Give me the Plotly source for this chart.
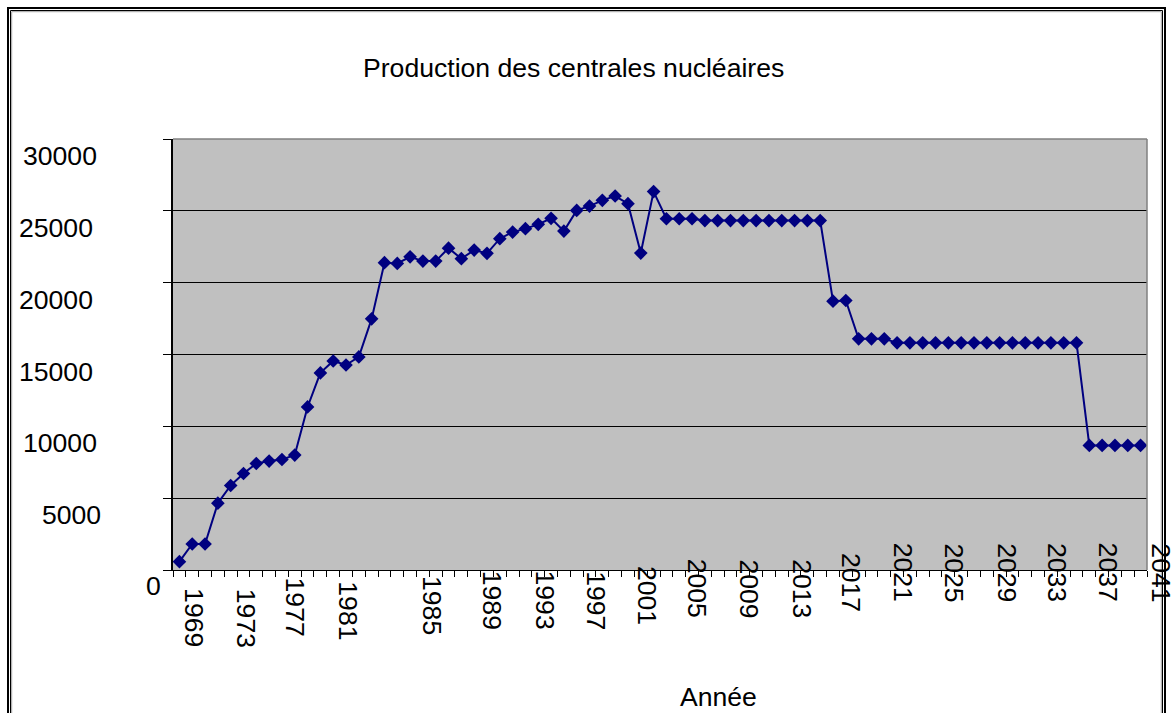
import plotly.graph_objects as go

# ---------------- data ----------------
years = list(range(1969, 2045))
production = [
    580, 1810, 1810, 4650, 5880, 6720, 7410, 7580, 7690, 8000,
    11350, 13720, 14550, 14270, 14830, 17480, 21390, 21340, 21800, 21500,
    21500, 22400, 21670, 22270, 22040, 23060, 23520, 23760, 24060, 24480,
    23590, 25030, 25330, 25730, 26030, 25500, 22060, 26340, 24450, 24450,
    24450, 24320, 24320, 24320, 24320, 24320, 24320, 24320, 24320, 24320,
    24320, 18710, 18760, 16090, 16090, 16090, 15810, 15810, 15810, 15810,
    15810, 15810, 15810, 15810, 15810, 15810, 15810, 15810, 15810, 15810,
    15810, 8670, 8670, 8670, 8670, 8670,
]
x_tick_labels = [1969, 1973, 1977, 1981, 1985, 1989, 1993, 1997, 2001, 2005,
                 2009, 2013, 2017, 2021, 2025, 2029, 2033, 2037, 2041]
y_tick_values = [0, 5000, 10000, 15000, 20000, 25000, 30000]

title_text = "Production des centrales nucléaires"
x_title = "Année"

# ---------------- styling / label placement (as in the reference) ----------------
FONT = "Liberation Sans, Arial, sans-serif"
FS = 26.6
NAVY = "#000080"
# pixel offsets of the x tick labels relative to their category
x_label_xshift = [15, 16, 14, 15, 48, 57, 59, 58, 58, 57, 57, 59, 57, 58, 57, 59, 58, 58, 59]
x_label_yshift = [-17, -18, -7, -10, -5, 0, 0, 0, 5, 12, 12, 12, 18, 28, 28, 28, 28, 28, 28]
# pixel offsets of the y tick labels
y_label_xshift = [-11, -71, -75, -79, -79, -79, -75]
y_label_yshift = [-16, -17, -17, -17, -17, -17, -17]

W, H = 1174, 713
L, R, T, B = 173, 27, 139, 143
PW, PH = W - L - R, H - T - B


def px(xpix):
    return (xpix - L) / PW


def py(ypix):
    return (H - B - ypix) / PH


fig = go.Figure()
fig.add_trace(go.Scatter(
    x=years, y=production, mode="lines+markers",
    line=dict(color=NAVY, width=2),
    marker=dict(symbol="diamond", size=10.5, color=NAVY, line=dict(width=0)),
    showlegend=False, hoverinfo="x+y",
))

annotations = []
for i, yr in enumerate(x_tick_labels):
    annotations.append(dict(
        x=yr, xref="x", y=0, yref="paper", text=str(yr), showarrow=False,
        textangle=90, xanchor="center", yanchor="top", borderpad=0,
        xshift=x_label_xshift[i], yshift=x_label_yshift[i],
        font=dict(family=FONT, size=FS, color="black"),
    ))
for i, v in enumerate(y_tick_values):
    annotations.append(dict(
        x=0, xref="paper", y=v, yref="y", text=str(v), showarrow=False,
        xanchor="right", yanchor="middle", borderpad=0,
        xshift=y_label_xshift[i], yshift=y_label_yshift[i],
        font=dict(family=FONT, size=FS, color="black"),
    ))
annotations.append(dict(
    x=px(573), y=py(68), xref="paper", yref="paper", text=title_text,
    showarrow=False, xanchor="center", yanchor="middle",
    font=dict(family=FONT, size=FS, color="black"),
))
annotations.append(dict(
    x=px(718), y=py(697), xref="paper", yref="paper", text=x_title,
    showarrow=False, xanchor="center", yanchor="middle",
    font=dict(family=FONT, size=FS, color="black"),
))

shapes = [
    # plot-area border (top and right, grey)
    dict(type="line", xref="paper", yref="paper", x0=0, x1=1, y0=1, y1=1,
         line=dict(color="#808080", width=1.5), layer="above"),
    dict(type="line", xref="paper", yref="paper", x0=1, x1=1, y0=0, y1=1,
         line=dict(color="#808080", width=1.5), layer="above"),
    # double frame of the chart
    dict(type="rect", xref="paper", yref="paper", x0=px(8), x1=px(1165),
         y0=py(760), y1=py(8), line=dict(color="black", width=2)),
    dict(type="rect", xref="paper", yref="paper", x0=px(10.5), x1=px(1162.5),
         y0=py(760), y1=py(10.5), line=dict(color="black", width=1)),
    dict(type="rect", xref="paper", yref="paper", x0=px(11.7), x1=px(1161.3),
         y0=py(760), y1=py(11.7), line=dict(color="#A0A0A0", width=1)),
]

fig.update_layout(
    width=W, height=H,
    margin=dict(l=L, r=R, t=T, b=B, pad=0),
    paper_bgcolor="white", plot_bgcolor="#C0C0C0",
    font=dict(family=FONT, size=FS, color="black"),
    annotations=annotations, shapes=shapes, showlegend=False,
    xaxis=dict(
        range=[1968.5, 2044.5], tick0=1968.5, dtick=1,
        ticks="outside", ticklen=6, tickcolor="black", tickwidth=1,
        showticklabels=False, showgrid=False, zeroline=False,
        showline=True, linecolor="black", linewidth=1,
    ),
    yaxis=dict(
        range=[0, 30000], tick0=0, dtick=5000,
        ticks="outside", ticklen=8, tickcolor="black", tickwidth=1,
        showticklabels=False, showgrid=True, gridcolor="black", gridwidth=1,
        zeroline=False, showline=True, linecolor="black", linewidth=1.5,
    ),
)

fig.write_html(
    "out.html",
    config={"displayModeBar": False},
    post_script="document.body.style.margin='0px';document.body.style.overflow='hidden';",
)
